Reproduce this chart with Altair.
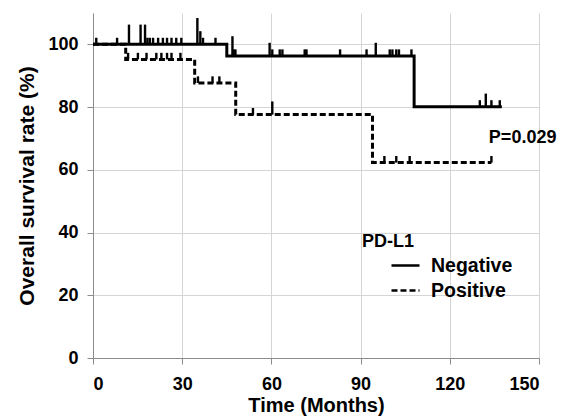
import altair as alt
import pandas as pd

# Step curves: change times and survival levels (%)
neg_times = [0, 45, 108, 137.5]
neg_surv = [100, 96.3, 80.1]
pos_times = [0, 11, 34.2, 48, 94, 134]
pos_surv = [100, 95.2, 87.7, 77.6, 62.3]

# Censored observations: time (months) and number censored at that time
neg_cens_t = [1.1, 8.1, 12.1, 16.0, 17.5, 18.3, 19.1, 20.2, 21.9, 23.5, 24.9, 26.4, 28.0, 29.7,
              35.1, 36.1, 37.0, 41.2, 46.9, 47.3, 47.9, 59.4, 60.3, 62.8, 63.7, 71.2, 71.8,
              83.1, 92.0, 95.1, 99.8, 100.7, 102.0, 102.9, 107.1, 130.1, 132.1, 134.0, 136.8]
neg_cens_n = [1, 1, 3, 3, 3, 1, 1, 1, 1, 1, 1, 1, 1, 1,
              4, 2, 1, 1, 3, 1, 1, 2, 1, 1, 1, 1, 1,
              1, 1, 2, 1, 1, 1, 1, 1, 1, 2, 1, 1]
pos_cens_t = [11.8, 15.1, 18.0, 21.3, 23.0, 24.9, 26.4, 29.4, 35.3, 40.2, 42.5,
              53.8, 60.3, 98.0, 102.0, 106.5, 134.0]
pos_cens_n = [1, 1, 1, 1, 1, 1, 1, 1, 1, 1, 1,
              1, 2, 1, 1, 1, 1]

groups = ["Negative", "Positive"]
p_text = "P=0.029"

FONT = "Liberation Sans"


def step_rows(name, times, surv):
    rows = []
    for i, t in enumerate(times):
        s = surv[min(i, len(surv) - 1)]
        rows.append({"group": name, "t": t, "s": s})
    return rows


def level_at(times, surv, t):
    s = surv[0]
    for i in range(1, len(surv)):
        if t >= times[i]:
            s = surv[i]
    return s


lines = pd.DataFrame(step_rows("Negative", neg_times, neg_surv) +
                     step_rows("Positive", pos_times, pos_surv))

cens_rows = []
for t, n in zip(neg_cens_t, neg_cens_n):
    cens_rows.append({"group": "Negative", "t": t, "n": n, "s": level_at(neg_times, neg_surv, t)})
for t, n in zip(pos_cens_t, pos_cens_n):
    cens_rows.append({"group": "Positive", "t": t, "n": n, "s": level_at(pos_times, pos_surv, t)})
cens = pd.DataFrame(cens_rows)

xscale = alt.Scale(domain=[0, 150], nice=False, zero=True)
yscale = alt.Scale(domain=[0, 110], nice=False)

xaxis = alt.Axis(values=[0, 30, 60, 90, 120, 150], title="Time (Months)")
yaxis = alt.Axis(values=[0, 20, 40, 60, 80, 100], title="Overall survival rate (%)")

line = alt.Chart(lines).mark_line(interpolate="step-after", color="black", strokeWidth=3).encode(
    x=alt.X("t:Q", scale=xscale, axis=xaxis),
    y=alt.Y("s:Q", scale=yscale, axis=yaxis),
    strokeDash=alt.StrokeDash(
        "group:N",
        scale=alt.Scale(domain=groups, range=[[1, 0], [6, 3]]),
        legend=alt.Legend(
            title="PD-L1", orient="none", legendX=269, legendY=220,
            symbolType="stroke", symbolSize=784, symbolStrokeWidth=2.5,
            symbolStrokeColor="black", symbolOffset=28, labelOffset=10,
            titleFont=FONT, titleFontSize=18, titleFontWeight="bold", titleColor="black",
            labelFont=FONT, labelFontSize=19.5, labelFontWeight="bold", labelColor="black",
            rowPadding=0, titlePadding=-1, padding=0,
        ),
    ),
    detail="group:N",
)

ticks = alt.Chart(cens).transform_calculate(top="datum.s + datum.n * 2.1").mark_rule(
    color="black", strokeWidth=2.4
).encode(
    x=alt.X("t:Q", scale=xscale),
    y=alt.Y("s:Q", scale=yscale),
    y2="top:Q",
)

ptext = alt.Chart(pd.DataFrame({"label": [p_text]})).mark_text(
    font=FONT, fontSize=18, fontWeight="bold", color="black", align="center", baseline="middle"
).encode(
    x=alt.datum(144.5, scale=xscale),
    y=alt.datum(70.3, scale=yscale),
    text="label:N",
)

chart = alt.layer(line, ticks, ptext).properties(
    width=446, height=345,
    autosize=alt.AutoSizeParams(type="none"),
    padding={"left": 85, "top": 5, "right": 19, "bottom": 60},
).configure_view(stroke=None).configure_axis(
    grid=True, gridColor="#d4d4d4", gridWidth=1,
    domainColor="#8c8c8c", tickColor="#8c8c8c", tickSize=6,
    labelFont=FONT, labelFontSize=18, labelFontWeight="bold", labelColor="black",
    titleFont=FONT, titleFontWeight="bold", titleColor="black",
).configure_axisX(labelPadding=11, titlePadding=2, titleFontSize=20).configure_axisY(
    labelPadding=9, titlePadding=10, titleFontSize=21)

chart.save("out.html", embed_options={"renderer": "svg", "actions": False})
